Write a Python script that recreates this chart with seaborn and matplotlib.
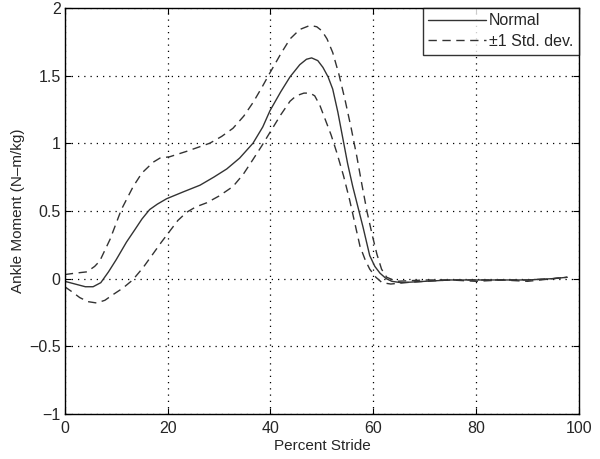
import matplotlib
matplotlib.use("Agg")
import matplotlib.pyplot as plt
import seaborn as sns

# mean curve
normal_x = [0, 2, 4, 5.5, 7, 8.5, 10, 12, 13.6, 15, 16.5, 18, 19.8, 23, 26.3, 29,
            31.5, 34, 36.6, 38.5, 39.9, 42, 43.8, 45.7, 47, 48, 49.2, 50.2, 51.2,
            52.1, 53.1, 54.1, 55, 56, 57, 58, 59.3, 60.3, 61.3, 62.5, 63.6, 65.4,
            70, 75, 80, 85, 90, 95, 97.7]
normal_y = [-0.02, -0.04, -0.06, -0.06, -0.03, 0.05, 0.14, 0.27, 0.36, 0.44, 0.51,
            0.55, 0.59, 0.64, 0.69, 0.75, 0.81, 0.89, 1.0, 1.12, 1.24, 1.38, 1.49,
            1.58, 1.62, 1.63, 1.61, 1.56, 1.49, 1.40, 1.23, 1.03, 0.85, 0.68, 0.53,
            0.38, 0.17, 0.09, 0.04, 0.0, -0.02, -0.03, -0.02, -0.01, -0.01, -0.01,
            -0.01, 0.0, 0.01]

# +1 std dev
upper_x = [0, 2, 4.3, 5.8, 6.8, 8.8, 11, 13.3, 15, 17.2, 18.5, 20.4, 23.7, 28.2,
           30.5, 32.7, 34.8, 36.6, 38.3, 39.9, 42, 43.8, 45.7, 47.7, 49, 50, 51,
           52.1, 53.3, 54.5, 55.7, 56.8, 57.8, 58.8, 59.8, 60.7, 61.6, 62.6, 64.5,
           70, 75, 80, 85, 90, 95, 97.7]
upper_y = [0.03, 0.04, 0.05, 0.09, 0.13, 0.29, 0.51, 0.68, 0.78, 0.86, 0.89, 0.90,
           0.94, 1.0, 1.05, 1.11, 1.2, 1.30, 1.41, 1.52, 1.66, 1.77, 1.84, 1.87, 1.86,
           1.83, 1.77, 1.67, 1.51, 1.32, 1.11, 0.90, 0.69, 0.49, 0.32, 0.18, 0.07,
           0.01, -0.02, -0.01, -0.01, -0.01, -0.01, -0.01, 0.0, 0.01]

# -1 std dev
lower_x = [0, 1.5, 2.9, 4.5, 6.2, 7.8, 9.3, 11.3, 13.2, 15.2, 17.1, 18.8, 20.4,
           22, 23.7, 25.5, 27.6, 30, 32.7, 34.7, 36.6, 38.3, 39.9, 42, 43.8, 45,
           46.5, 47.7, 48.6, 49.6, 50.6, 51.8, 52.9, 54.2, 55.4, 56.4, 57.4, 58.4,
           59.3, 60.5, 61.7, 63.4, 66, 70, 75, 80, 85, 90, 95, 97.7]
lower_y = [-0.06, -0.1, -0.14, -0.17, -0.18, -0.16, -0.12, -0.07, -0.01, 0.08, 0.18,
           0.27, 0.35, 0.43, 0.49, 0.53, 0.56, 0.61, 0.68, 0.77, 0.88, 0.98, 1.08,
           1.21, 1.31, 1.35, 1.37, 1.37, 1.35, 1.28, 1.18, 1.06, 0.93, 0.76, 0.58,
           0.41, 0.24, 0.14, 0.07, 0.01, -0.03, -0.04, -0.03, -0.02, -0.01, -0.02,
           -0.01, -0.02, 0.0, 0.01]

x_ticks = [0, 20, 40, 60, 80, 100]
y_ticks = [-1, -0.5, 0, 0.5, 1, 1.5, 2]
y_tick_labels = ["\u22121", "\u22120.5", "0", "0.5", "1", "1.5", "2"]

sns.set_style("white")
plt.rcParams["font.family"] = ["Liberation Sans", "DejaVu Sans"]

fig = plt.figure(figsize=(6, 4.59), dpi=100)
ax = fig.add_axes([0.108, 0.098, 0.857, 0.885])

line_col = "#333333"
dash = (0, (6, 4))
sns.lineplot(x=normal_x, y=normal_y, ax=ax, color=line_col, lw=1.0,
             label="Normal", sort=False)
sns.lineplot(x=upper_x, y=upper_y, ax=ax, color=line_col, lw=1.0,
             label="\u00b11 Std. dev.", sort=False)
sns.lineplot(x=lower_x, y=lower_y, ax=ax, color=line_col, lw=1.0, sort=False)
ax.lines[1].set_linestyle(dash)
ax.lines[2].set_linestyle(dash)

ax.set_xlim(0, 100)
ax.set_ylim(-1, 2)
ax.set_xticks(x_ticks)
ax.set_yticks(y_ticks)
ax.set_yticklabels(y_tick_labels)
ax.tick_params(labelsize=11.5, direction="in", length=4, color="black",
               left=True, bottom=True, top=True, right=True)
ax.tick_params(axis="x", pad=5)
ax.tick_params(axis="y", pad=3)
ax.grid(True, color="black", linestyle=(0, (1, 4)), linewidth=0.9)
for s in ax.spines.values():
    s.set_color("black")
    s.set_linewidth(1.0)
ax.set_xlabel("Percent Stride", fontsize=11, labelpad=2)
ax.set_ylabel("Ankle Moment (N\u2013m/kg)", fontsize=11, labelpad=3)

leg = ax.legend(loc="upper right", fontsize=11.5, frameon=True, fancybox=False,
                borderaxespad=0, handlelength=3.6, handletextpad=0.2,
                borderpad=0.35, labelspacing=0.35)
leg.get_frame().set_edgecolor("black")
leg.get_frame().set_linewidth(1.0)
for h in leg.get_lines():
    h.set_color(line_col)
leg.get_lines()[1].set_linestyle(dash)

fig.savefig("out.png", dpi=100)
